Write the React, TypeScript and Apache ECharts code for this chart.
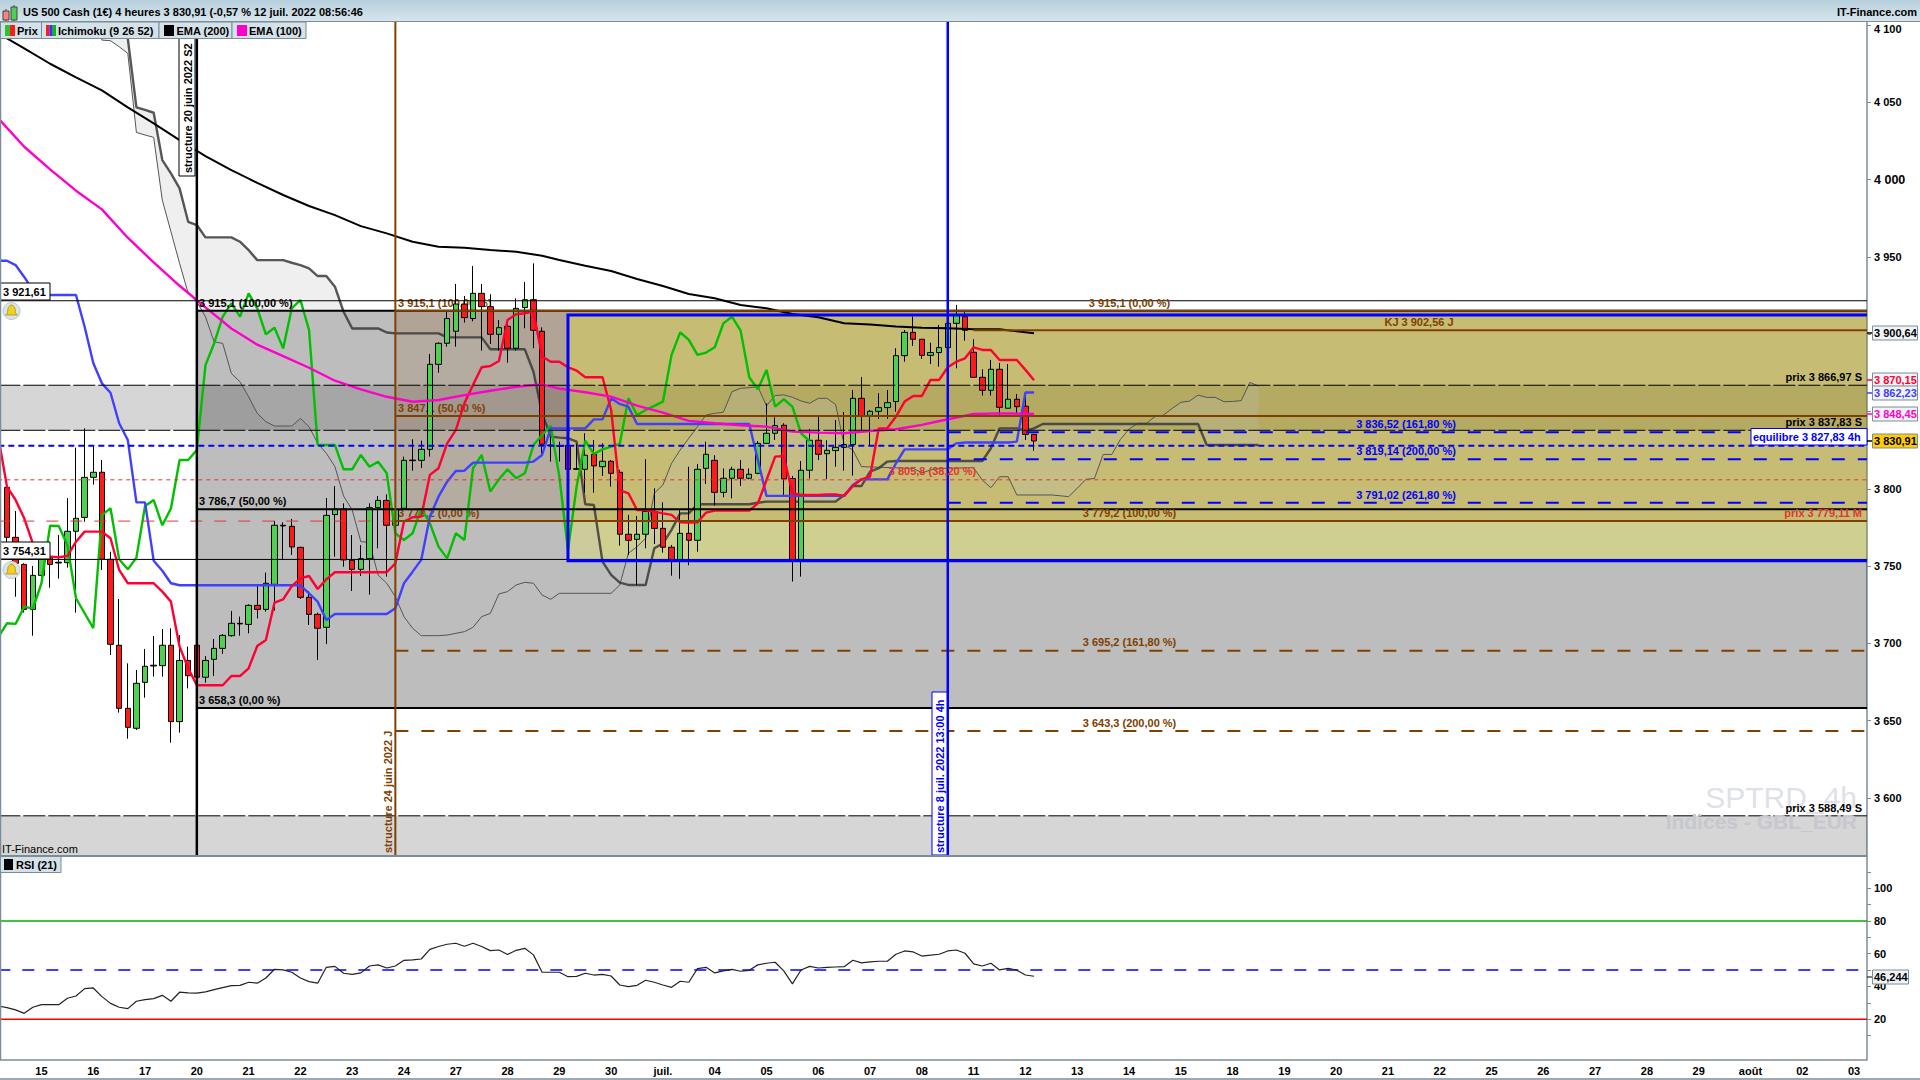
import React, { useEffect, useRef } from "react";
import * as echarts from "echarts";

// ---------- data ----------
// candles: [open, close, low, high]
const candles: number[][] = [
[3800.9,3768.6,3764.7,3803.1],[3768.6,3751.8,3730.2,3785.6],[3751.1,3722.0,3719.9,3751.8],[3722.0,3744.0,3705.0,3750.1],
[3744.0,3756.1,3743.2,3758.3],[3756.1,3751.1,3736.0,3759.3],[3752.5,3752.0,3741.9,3770.1],[3752.2,3772.5,3749.0,3794.0],
[3772.5,3780.9,3719.9,3826.6],[3781.5,3807.4,3778.7,3839.1],[3807.4,3810.7,3802.7,3828.3],[3810.7,3754.4,3747.5,3818.6],
[3754.4,3699.4,3692.5,3759.3],[3698.8,3658.0,3655.2,3728.7],[3658.0,3645.7,3638.4,3687.1],[3645.1,3674.2,3644.0,3682.8],
[3674.8,3685.2,3664.9,3696.4],[3685.9,3685.4,3678.5,3704.8],[3685.6,3698.8,3678.5,3709.3],[3698.8,3649.4,3635.8,3709.8],
[3649.4,3689.0,3642.3,3705.4],[3689.0,3679.1,3670.9,3697.9],[3698.8,3678.1,3674.2,3700.1],[3678.1,3689.0,3674.6,3691.8],
[3689.7,3696.8,3678.9,3702.9],[3696.8,3705.2,3693.2,3706.1],[3705.0,3713.0,3704.4,3721.0],[3713.0,3712.6,3705.0,3717.3],
[3712.3,3724.6,3706.5,3725.3],[3724.6,3722.0,3716.2,3737.4],[3722.0,3738.9,3720.5,3745.8],[3738.2,3776.4,3721.2,3779.2],
[3776.4,3776.0,3754.4,3778.3],[3775.7,3762.4,3757.2,3780.5],[3762.1,3729.8,3728.7,3762.6],[3729.8,3718.8,3711.9,3733.9],
[3718.8,3709.8,3689.3,3719.9],[3710.4,3782.8,3699.6,3794.0],[3783.3,3786.9,3756.1,3801.8],[3786.9,3754.0,3749.6,3790.6],
[3753.7,3747.9,3733.9,3770.1],[3747.9,3754.8,3743.6,3763.6],[3754.8,3787.8,3731.5,3790.6],[3787.8,3792.5,3761.5,3795.3],
[3792.5,3776.4,3743.2,3796.4],[3776.4,3786.7,3775.0,3790.0],[3787.4,3818.4,3786.3,3820.8],[3818.6,3818.2,3811.7,3832.0],
[3818.4,3825.5,3813.5,3831.1],[3825.5,3880.5,3820.8,3887.2],[3880.5,3894.1,3875.1,3894.7],[3894.1,3910.1,3891.9,3914.4],
[3901.9,3919.5,3891.9,3932.5],[3919.5,3910.7,3907.5,3924.7],[3910.1,3926.4,3908.3,3944.1],[3926.4,3917.8,3889.4,3932.5],
[3917.8,3899.9,3893.7,3925.8],[3899.9,3904.2,3889.4,3909.2],[3905.1,3890.9,3881.6,3908.1],[3890.9,3916.7,3889.4,3923.2],
[3917.2,3922.3,3903.8,3933.8],[3922.3,3902.5,3890.9,3945.8],[3901.9,3828.8,3820.8,3904.4],[3828.3,3827.9,3817.6,3833.7],
[3827.9,3827.5,3817.6,3830.5],[3828.1,3812.6,3812.2,3828.8],[3813.0,3812.6,3812.4,3829.0],[3812.6,3821.7,3797.5,3835.9],
[3822.3,3814.8,3797.5,3831.6],[3814.3,3817.8,3808.3,3829.4],[3817.8,3810.0,3801.4,3818.6],[3810.7,3770.6,3763.2,3812.2],
[3770.6,3766.7,3757.2,3783.1],[3767.3,3770.6,3737.8,3782.4],[3770.6,3785.4,3761.5,3819.1],[3785.4,3774.4,3764.3,3800.3],
[3774.4,3762.2,3758.7,3791.3],[3762.2,3754.0,3743.8,3763.7],[3754.0,3771.2,3741.7,3786.3],[3771.2,3766.7,3750.5,3814.3],
[3766.7,3812.6,3759.3,3816.1],[3813.2,3822.3,3803.1,3830.5],[3818.4,3797.7,3789.1,3821.7],[3797.7,3806.8,3794.5,3813.2],
[3806.8,3812.6,3793.8,3814.3],[3812.6,3806.8,3801.8,3818.6],[3806.8,3809.4,3806.1,3813.2],[3810.0,3829.4,3809.4,3830.9],
[3829.4,3835.9,3829.0,3855.3],[3835.9,3840.8,3831.6,3846.2],[3841.1,3806.3,3795.6,3842.4],[3806.6,3754.0,3740.0,3808.3],
[3754.0,3812.0,3743.2,3818.0],[3812.0,3831.4,3806.6,3838.7],[3831.4,3822.3,3818.6,3846.7],[3822.7,3824.9,3806.3,3831.4],
[3824.7,3826.8,3814.3,3844.5],[3826.8,3828.6,3811.7,3849.7],[3828.6,3858.5,3808.5,3863.9],[3858.5,3847.1,3837.6,3872.3],
[3847.5,3850.1,3828.3,3851.0],[3850.1,3852.5,3845.2,3861.8],[3852.5,3855.7,3845.2,3863.9],[3856.4,3886.1,3849.9,3890.9],
[3886.1,3901.2,3882.2,3902.7],[3901.2,3896.7,3892.4,3911.3],[3896.7,3886.3,3884.0,3896.7],[3886.3,3888.1,3880.7,3894.5],
[3888.1,3891.3,3879.0,3906.0],[3891.3,3907.0,3890.9,3907.0],[3907.0,3912.4,3877.9,3918.9],[3911.3,3902.5,3895.8,3914.2],
[3888.3,3872.1,3872.1,3896.7],[3872.1,3863.7,3860.3,3877.3],[3863.7,3877.3,3860.3,3883.3],[3877.3,3852.7,3847.7,3881.4],
[3852.1,3857.9,3852.1,3880.7],[3857.9,3853.1,3848.8,3861.3],[3853.4,3835.2,3831.6,3860.0],[3835.2,3830.91,3824.5,3835.2],
];
// one point before the first candle, then one point per candle
const tenkan = [3833.7,3801.4,3792.8,3780.9,3764.7,3755.7,3756.1,3755.7,3756.5,3765.8,3772.3,3772.3,3772.3,3768.0,3747.5,3738.9,3738.9,3738.9,3738.9,3733.5,3727.0,3697.9,3683.9,3672.9,3672.9,3672.9,3672.9,3678.9,3678.9,3683.9,3698.3,3702.2,3726.4,3728.5,3737.1,3742.1,3743.6,3735.2,3741.4,3746.0,3746.0,3746.0,3746.0,3746.0,3746.0,3746.0,3751.8,3778.8,3781.6,3782.0,3809.0,3813.3,3829.4,3838.0,3855.3,3867.2,3878.6,3879.4,3882.7,3909.2,3912.9,3913.5,3914.6,3885.5,3882.2,3882.2,3878.6,3876.4,3872.1,3872.1,3872.1,3851.0,3799.2,3797.1,3786.3,3786.3,3785.2,3784.1,3783.1,3778.3,3778.1,3778.3,3784.6,3785.9,3785.9,3785.9,3785.9,3785.9,3790.6,3805.7,3820.8,3821.2,3797.1,3796.0,3796.0,3796.0,3796.4,3796.4,3795.4,3801.8,3806.1,3807.9,3839.1,3839.1,3846.7,3856.4,3860.0,3860.0,3870.4,3870.4,3878.6,3882.2,3884.4,3891.5,3889.8,3889.8,3883.3,3883.3,3883.3,3876.9,3870.15];
const kijun = [3947.5,3947.5,3944.7,3937.0,3928.5,3925.3,3925.3,3925.3,3925.3,3925.3,3904.8,3881.3,3868.2,3862.1,3842.4,3831.6,3791.2,3791.2,3753.5,3747.0,3738.9,3737.6,3737.6,3737.6,3737.6,3737.6,3737.6,3737.6,3737.6,3737.6,3737.6,3737.6,3737.6,3737.6,3737.6,3737.6,3732.4,3727.0,3715.1,3719.0,3719.0,3719.0,3719.0,3719.0,3719.0,3719.0,3722.7,3738.9,3746.4,3754.0,3782.0,3794.9,3804.6,3811.5,3811.7,3816.9,3816.9,3816.9,3816.9,3816.9,3816.9,3816.9,3817.6,3821.9,3839.1,3839.1,3839.1,3839.1,3839.1,3844.9,3844.9,3858.5,3854.9,3853.1,3841.9,3841.9,3841.9,3841.9,3841.9,3841.9,3841.9,3841.9,3841.9,3841.9,3841.9,3841.9,3841.9,3841.9,3818.6,3795.4,3795.4,3795.4,3795.4,3795.4,3795.4,3795.4,3795.4,3795.4,3795.4,3802.5,3806.1,3806.1,3806.1,3806.1,3816.5,3825.5,3825.5,3825.5,3825.5,3825.5,3825.5,3829.4,3829.9,3829.9,3829.9,3829.9,3829.9,3829.9,3830.5,3862.23,3862.23];
const chikou = [3704.0,3713.0,3712.6,3723.8,3722.5,3738.9,3776.2,3776.0,3763.6,3729.2,3719.5,3709.8,3783.0,3787.4,3754.4,3747.9,3755.5,3788.9,3792.7,3776.4,3787.3,3818.6,3818.6,3825.1,3880.0,3894.0,3911.3,3919.9,3911.3,3926.4,3916.7,3899.9,3904.2,3890.8,3916.7,3922.1,3902.7,3828.3,3828.3,3828.3,3812.6,3812.6,3821.9,3814.3,3817.5,3810.0,3771.2,3766.9,3771.2,3787.4,3777.7,3762.6,3755.0,3771.2,3766.9,3813.3,3821.9,3798.2,3806.1,3812.6,3806.8,3810.0,3828.3,3834.8,3840.8,3807.9,3760.4,3801.4,3831.1,3822.5,3825.5,3827.3,3829.0,3858.5,3847.7,3851.0,3853.6,3856.4,3886.6,3901.2,3896.3,3886.6,3888.1,3891.5,3907.0,3911.3,3902.3,3872.1,3864.3,3876.9,3853.1,3857.9,3853.1,3835.9,3830.91];
// [candle number, value] readings
const senkouThin: number[][] = [[9,4200],[11,4090.2],[12,4089.8],[13,4085.9],[14,4081.6],[15,4030.5],[16,4028.8],[17,4027.3],[18,3986.7],[19,3966.3],[20,3945.8],[21,3926.4],[22,3921.0],[23,3911.3],[24,3895.1],[25,3894.0],[26,3874.6],[27,3869.2],[28,3859.5],[29,3848.8],[30,3843.4],[31,3840.6],[33,3840.6],[34,3845.5],[35,3840.2],[36,3829.4],[37,3823.0],[38,3814.3],[39,3795.3],[40,3786.3],[41,3765.8],[42,3765.4],[43,3744.2],[44,3738.9],[45,3730.2],[46,3717.3],[47,3709.8],[48,3705.0],[50,3705.0],[51,3705.4],[53,3707.6],[54,3710.4],[55,3717.3],[56,3719.4],[57,3732.0],[58,3733.5],[59,3737.8],[60,3739.5],[61,3738.9],[62,3731.3],[63,3728.5],[64,3732.4],[70,3732.4],[71,3737.8],[72,3758.3],[73,3762.6],[74,3768.0],[75,3797.1],[76,3802.5],[77,3816.5],[78,3825.1],[79,3832.7],[80,3840.2],[81,3847.7],[82,3848.8],[83,3849.5],[84,3862.8],[85,3865.0],[86,3865.4],[87,3866.0],[88,3853.6],[89,3860.3],[90,3860.7],[91,3859.2],[92,3856.8],[93,3855.3],[94,3858.5],[95,3858.5],[96,3854.6],[97,3828.3],[98,3825.1],[99,3814.3],[105,3813.2],[106,3810.4],[107,3812.1],[108,3813.2],[112,3813.6],[113,3805.6],[114,3800.7],[115,3807.8],[116,3807.8],[117,3796.0],[121,3796.0],[122,3795.5],[123,3794.9],[124,3800.3],[125,3806.1],[126,3806.7],[127,3822.2],[128,3822.2],[129,3831.9],[130,3838.6],[131,3842.3],[132,3842.3],[133,3846.6],[134,3847.7],[135,3852.0],[136,3855.9],[137,3856.7],[138,3860.6],[139,3859.1],[140,3859.1],[141,3856.3],[142,3856.5],[143,3857.0],[144,3868.8],[145,3866.4]];
const senkouThick: number[][] = [[9,4400],[13,4202],[14,4091.3],[15,4046.7],[16,4045.0],[17,4043.2],[18,4012.6],[19,4004.0],[20,3994.3],[21,3972.7],[22,3970.6],[23,3962.6],[26,3962.6],[27,3959.8],[28,3954.4],[29,3947.9],[32,3947.9],[33,3946.2],[34,3944.7],[35,3942.5],[36,3937.6],[37,3937.6],[38,3930.7],[39,3914.5],[40,3903.7],[43,3903.7],[44,3901.1],[45,3900.5],[50,3900.5],[51,3897.9],[55,3897.9],[56,3890.2],[60,3890.2],[61,3875.7],[62,3848.8],[63,3833.7],[64,3833.1],[65,3832.7],[66,3830.5],[67,3790.0],[68,3789.5],[69,3752.9],[70,3744.3],[71,3739.3],[72,3737.8],[74,3737.8],[75,3761.5],[76,3764.7],[77,3773.4],[78,3784.1],[79,3784.1],[80,3790.0],[86,3790.0],[87,3791.0],[88,3791.7],[96,3791.7],[97,3796.0],[98,3801.8],[99,3801.8],[100,3811.1],[101,3813.3],[102,3817.6],[103,3818.0],[113,3818.0],[114,3826.2],[115,3839.1],[117,3839.1],[118,3837.6],[119,3839.1],[120,3841.9],[138,3841.9],[139,3828.3],[145,3828.3]];
const ema200: number[][] = [[-1,4094.5],[2,4084.8],[5,4074.9],[8,4066.1],[11,4057.7],[14,4046.7],[17,4036.3],[20,4025.5],[23,4015.2],[26,4006.1],[29,3997.9],[32,3990.0],[35,3982.9],[38,3977.0],[41,3969.9],[44,3965.2],[47,3959.8],[50,3956.6],[53,3955.9],[56,3954.4],[59,3953.3],[62,3950.7],[64,3948.0],[67,3944.3],[70,3940.9],[73,3935.7],[76,3931.2],[79,3926.0],[82,3923.2],[85,3918.9],[88,3916.7],[91,3913.1],[94,3910.9],[97,3907.0],[100,3906.2],[103,3904.9],[106,3904.2],[109,3903.8],[112,3903.2],[115,3903.2],[119,3900.64]];
const ema100: number[][] = [[-1,4039.6],[2,4021.2],[5,4006.6],[8,3992.8],[11,3980.7],[14,3962.4],[17,3946.4],[20,3931.3],[23,3917.3],[26,3903.7],[29,3893.2],[32,3885.8],[35,3878.3],[38,3869.9],[41,3864.3],[44,3859.5],[47,3856.3],[50,3857.4],[53,3860.6],[56,3863.4],[59,3866.0],[62,3867.5],[64,3864.8],[67,3862.4],[70,3859.6],[73,3853.8],[76,3849.3],[79,3843.9],[82,3842.4],[85,3841.1],[88,3840.2],[91,3837.0],[94,3836.3],[97,3835.9],[100,3837.4],[103,3838.5],[106,3841.3],[109,3845.0],[112,3848.4],[115,3848.8],[119,3848.45]];
const rsi = [28.1,27.1,25.7,23.6,27.3,28.9,28.9,28.9,32.8,34.2,38.7,39.1,33.8,29.7,27.3,26.5,31.0,32.0,32.6,34.6,31.0,36.5,36.1,35.9,36.7,38.1,39.3,40.5,40.7,42.6,42.0,45.2,50.5,50.1,48.7,45.2,43.0,42.0,51.7,52.3,48.1,47.4,48.3,52.5,53.2,51.3,52.5,56.0,56.2,56.8,62.7,64.4,65.8,66.4,64.6,66.4,64.4,61.9,62.3,59.5,62.1,63.3,59.3,48.7,48.7,48.7,46.0,46.2,48.1,47.0,47.4,46.4,40.9,39.9,40.7,43.8,42.6,40.9,39.5,43.2,42.6,50.9,51.7,48.3,49.5,50.5,49.3,49.9,53.2,54.2,54.8,49.5,41.6,50.1,52.3,51.3,51.7,51.9,52.1,56.0,54.4,55.0,55.4,55.4,59.7,61.7,61.1,58.6,59.1,59.7,61.7,62.3,60.3,53.8,52.5,54.2,50.1,51.1,49.9,47.0,46.244];
const dayLabels = ["15","16","17","20","21","22","23","24","27","28","29","30","juil.","04","05","06","07","08","11","12","13","14","15","18","19","20","21","22","25","26","27","28","29","août","02","03"];
const priceTicks = [3600,3650,3700,3750,3800,3850,3900,3950,4000,4050,4100];
const priceLabels = [3600,3650,3700,3750,3800,3950,4000,4050,4100];
const rsiLabels = [20,40,60,80,100];
const rsiTicks = [10,20,30,40,50,60,70,80,90,100,110];
const BAR_COUNT = 217;
const categories = Array.from({ length: BAR_COUNT }, (_, j) => (j % 6 === 5 ? dayLabels[(j - 5) / 6] ?? "" : ""));

// candle numbers of the drawn structures
const I_BLACK = 22, I_BROWN = 45, I_BOX = 65, I_BLUE = 109, I_KJ = 112;

const BROWN = "#804000", BLUE = "#0000ff", SLATE = "#7b8d98", RED = "#e03535";
const FONT = '"Liberation Sans", Arial, sans-serif';

const pj = (pairs: number[][]) => pairs.map(([i, v]) => [i + 1, v]);
const idx = (arr: number[]) => arr.map((v, j) => [j, v]);

function hLine(from: number, price: number, color: string, width: number, dash?: number[], z = 10, axis = 0) {
  return {
    type: "custom", silent: true, z, xAxisIndex: axis, yAxisIndex: axis, encode: { x: 0, y: 1 },
    data: [[from, price]],
    renderItem: (p: any, api: any) => {
      const a = api.coord([api.value(0), api.value(1)]);
      const cs = p.coordSys;
      return { type: "line", shape: { x1: a[0], y1: a[1], x2: cs.x + cs.width, y2: a[1] }, style: { stroke: color, lineWidth: width, lineDash: dash, fill: null } };
    },
  };
}
function vLine(from: number, color: string, width: number) {
  return {
    type: "custom", silent: true, z: 10, xAxisIndex: 0, yAxisIndex: 0, encode: { x: 0, y: 1 },
    data: [[from, 3700]],
    renderItem: (p: any, api: any) => {
      const a = api.coord([api.value(0), api.value(1)]);
      const cs = p.coordSys;
      return { type: "line", shape: { x1: a[0], y1: cs.y, x2: a[0], y2: cs.y + cs.height }, style: { stroke: color, lineWidth: width, fill: null } };
    },
  };
}
function zone(from: number, top: number, bottom: number, fill: string, z: number) {
  return {
    type: "custom", silent: true, z, xAxisIndex: 0, yAxisIndex: 0, encode: { x: 0, y: 1 },
    data: [[from, top, bottom]],
    renderItem: (p: any, api: any) => {
      const a = api.coord([api.value(0), api.value(1)]);
      const b = api.coord([api.value(0), api.value(2)]);
      const cs = p.coordSys;
      const x = Math.max(a[0], cs.x);
      return { type: "rect", shape: { x, y: a[1], width: cs.x + cs.width - x, height: b[1] - a[1] }, style: { fill } };
    },
  };
}
function lineS(data: number[][], color: string, width: number, z: number, axis = 0, opacity = 1) {
  return { type: "line", silent: true, xAxisIndex: axis, yAxisIndex: axis, data, z, showSymbol: false, symbol: "none", lineStyle: { color, width, opacity }, clip: true };
}

const tx = (text: string, x: number, y: number, fill = "#000", align = "left", z = 30, font = `bold 11px ${FONT}`, rotation = 0) => ({
  type: "text", silent: true, z, x, y, rotation,
  style: { text, fill, font, align, textAlign: align, verticalAlign: "middle", textVerticalAlign: "middle" },
});
const rc = (x: number, y: number, w: number, h: number, fill: any, stroke?: string, z = 25, lw = 1) => ({
  type: "rect", silent: true, z, shape: { x, y, width: w, height: h }, style: { fill, stroke, lineWidth: lw },
});
const ln = (x1: number, y1: number, x2: number, y2: number, stroke: string, lw = 1, z = 25) => ({
  type: "line", silent: true, z, shape: { x1, y1, x2, y2 }, style: { stroke, lineWidth: lw },
});
const bell = (cx: number, cy: number) => [
  { type: "circle", silent: true, z: 26, shape: { cx, cy, r: 8.5 }, style: { fill: "#dbe4ea", stroke: "#b8c6cf" } },
  { type: "polygon", silent: true, z: 27, shape: { points: [[cx - 6, cy + 4], [cx - 4, cy + 2], [cx - 3.5, cy - 3], [cx - 1, cy - 6], [cx + 1, cy - 6], [cx + 3.5, cy - 3], [cx + 4, cy + 2], [cx + 6, cy + 4]] }, style: { fill: "#f2d21e", stroke: "#a08a10", lineWidth: 0.7 } },
];
const tag = (text: string, y: number, color: string, bg = "#f1f4f6") => [
  ln(1867, y, 1872, y, color, 1.5, 28),
  rc(1872.5, y - 7, 45, 14, bg, SLATE, 28),
  tx(text, 1874, y, color, "left", 29),
];

const graphics: any[] = [
  // title bar
  rc(0, 0, 1920, 21.5, { type: "linear", x: 0, y: 0, x2: 0, y2: 1, colorStops: [{ offset: 0, color: "#b6cfdc" }, { offset: 1, color: "#d8e6ed" }] }, undefined, 40),
  ln(0, 21.5, 1920, 21.5, SLATE, 1, 41),
  rc(3, 11, 6, 9, "#ff8080", "#444", 42), ln(6, 9, 6, 21, "#444", 1, 41),
  rc(11, 7, 6, 13, "#50d050", "#444", 42), ln(14, 5, 14, 21, "#444", 1, 41),
  tx("US 500 Cash (1€) 4 heures 3 830,91 (-0,57 % 12 juil. 2022 08:56:46", 23, 12, "#000", "left", 42),
  tx("IT-Finance.com", 1917, 12, "#000", "right", 42),
  // legend row
  rc(0.5, 22, 41, 16.5, "#d4e1e8", SLATE, 40), rc(41.5, 22, 117.5, 16.5, "#d4e1e8", SLATE, 40),
  rc(159, 22, 73, 16.5, "#d4e1e8", SLATE, 40), rc(232, 22, 74, 16.5, "#d4e1e8", SLATE, 40),
  rc(5, 25, 5, 11, "#30c030", undefined, 41), rc(10, 25, 5, 11, "#ff1a1a", undefined, 41),
  rc(46, 25, 3.4, 11, "#ff1a1a", undefined, 41), rc(49.4, 25, 3.3, 11, "#3030ff", undefined, 41), rc(52.7, 25, 3.3, 11, "#00c000", undefined, 41),
  rc(164, 25, 10, 11, "#000", undefined, 41), rc(237, 25, 10, 11, "#ff00cc", undefined, 41),
  tx("Prix", 17, 31, "#000", "left", 42), tx("Ichimoku (9 26 52)", 58, 31, "#000", "left", 42),
  tx("EMA (200)", 176.5, 31, "#000", "left", 42), tx("EMA (100)", 249, 31, "#000", "left", 42),
  // RSI legend
  rc(0.5, 856.5, 60.5, 16, "#d4e1e8", SLATE, 40), rc(4, 859, 9, 11, "#000", undefined, 41), tx("RSI (21)", 16, 865, "#000", "left", 42),
  // frame
  ln(0.5, 22, 0.5, 1060, SLATE, 1.5, 35),
  ln(0, 856, 1867, 856, SLATE, 2, 35),
  ln(0, 1060, 1867, 1060, SLATE, 1.5, 35),
  ln(0, 1079, 1920, 1079, SLATE, 1.5, 35),
  // texts behind the candles
  tx("3 915,1 (100,00 %)", 398, 303, BROWN, "left", 3),
  tx("3 847,1 (50,00 %)", 398, 408, BROWN, "left", 3),
  tx("3 779,2 (0,00 %)", 398, 513, BROWN, "left", 3),
  // structure labels
  rc(179, 22, 16, 154, "#fff", "#000", 11),
  tx("structure 20 juin 2022 S2", 187.5, 173, "#000", "left", 12, `bold 11px ${FONT}`, Math.PI / 2),
  tx("structure 24 juin 2022 J", 388, 853, BROWN, "left", 12, `bold 11px ${FONT}`, Math.PI / 2),
  rc(932, 692, 15, 163, "#fff", BLUE, 11),
  tx("structure 8 juil. 2022 13:00 4h", 940, 853, BLUE, "left", 12, `bold 11px ${FONT}`, Math.PI / 2),
  // level texts
  tx("3 915,1 (100,00 %)", 199, 303), tx("3 786,7 (50,00 %)", 199, 501), tx("3 658,3 (0,00 %)", 199, 700),
  tx("3 915,1 (0,00 %)", 1129.5, 303, BROWN, "center"), tx("3 779,2 (100,00 %)", 1129.5, 513, BROWN, "center"),
  tx("3 695,2 (161,80 %)", 1129.5, 642, BROWN, "center"), tx("3 643,3 (200,00 %)", 1129.5, 723, BROWN, "center"),
  tx("KJ 3 902,56 J", 1419, 322, BROWN, "center"),
  tx("3 836,52 (161,80 %)", 1406, 424, BLUE, "center"), tx("3 819,14 (200,00 %)", 1406, 451, BLUE, "center"), tx("3 791,02 (261,80 %)", 1406, 495, BLUE, "center"),
  tx("3 805,8 (38,20 %)", 932.5, 471, RED, "center"),
  tx("prix 3 866,97 S", 1862, 377, "#000", "right"), tx("prix 3 837,83 S", 1862, 422, "#000", "right"),
  tx("prix 3 779,11 M", 1862, 513, RED, "right"),
  // watermark
  tx("SPTRD_4h", 1857, 797, "#dfe1e8", "right", 4, `30px ${FONT}`),
  tx("Indices - GBL_EUR", 1857, 821, "#c6c7cf", "right", 15, `bold 21px ${FONT}`),
  tx("prix 3 588,49 S", 1862, 808, "#000", "right"),
  tx("IT-Finance.com", 2, 849, "#000", "left", 30, `11px ${FONT}`),
  // equilibrium box
  rc(1751, 428.5, 116, 16.5, "#fff", BLUE, 26),
  tx("equilibre 3 827,83 4h", 1753, 437, BLUE, "left", 27),
  // left price boxes
  rc(0.5, 283, 49.5, 17, "#fff", "#000", 26), tx("3 921,61", 3, 292, "#000", "left", 27),
  rc(0.5, 542, 49.5, 17, "#fff", "#000", 26), tx("3 754,31", 3, 551, "#000", "left", 27),
  ...bell(11.5, 311), ...bell(11.5, 570),
  // right tags
  ...tag("3 900,64", 333, "#000"), ...tag("3 870,15", 380, "#ff0033"), ...tag("3 862,23", 393, "#4040ff"),
  ...tag("3 848,45", 414, "#ff00cc"), ...tag("3 830,91", 441, "#000", "#ffcc00"),
  ln(1867, 977, 1872, 977, "#000", 1, 28), rc(1872.5, 970, 36, 14, "#f1f4f6", SLATE, 28),
  tx("46,244", 1874, 977, "#000", "left", 29),
];

const fmtPrice = (v: number) => {
  const s = String(Math.round(v));
  const t = `${s.slice(0, 1)} ${s.slice(1)}`;
  if (v === 4000) return `{big|${t}}`;
  if (v === 4100) return `{low|${t}}`;
  return t;
};

function buildOption(): any {
  const from = (i: number) => i + 1;
  const last = from(-1);
  return {
    animation: false,
    backgroundColor: "#fff",
    grid: [
      { left: 0, width: 1873, top: 22, height: 834, containLabel: false },
      { left: 0, width: 1873, top: 856, height: 204, containLabel: false },
    ],
    xAxis: [
      { type: "category", gridIndex: 0, data: categories, boundaryGap: true, show: false },
      {
        type: "category", gridIndex: 1, data: categories, boundaryGap: true,
        axisLine: { show: false },
        axisTick: { alignWithLabel: true, length: 4, lineStyle: { color: SLATE }, interval: (_: number, v: string) => v !== "" },
        axisLabel: { interval: (_: number, v: string) => v !== "", color: "#000", margin: 5, fontFamily: "Liberation Sans", fontWeight: "bold", fontSize: 11, hideOverlap: false },
      },
    ],
    yAxis: [
      {
        type: "value", gridIndex: 0, position: "right", min: 3562.5, max: 4101.9, scale: true, splitLine: { show: false },
        axisLine: { show: true, onZero: false, lineStyle: { color: SLATE, width: 1.5 } },
        axisTick: { show: true, length: 4, customValues: priceTicks, lineStyle: { color: SLATE } },
        axisLabel: {
          customValues: priceLabels, margin: 7, formatter: fmtPrice, color: "#000", fontFamily: "Liberation Sans", fontWeight: "bold", fontSize: 11,
          rich: {
            big: { fontFamily: "Liberation Sans", fontWeight: "bold", fontSize: 12.5, color: "#000" },
            low: { fontFamily: "Liberation Sans", fontWeight: "bold", fontSize: 11, color: "#000", padding: [8, 0, 0, 0] },
          },
          showMinLabel: true, showMaxLabel: true,
        },
      },
      {
        type: "value", gridIndex: 1, position: "right", min: -4.9, max: 119.7, scale: true, splitLine: { show: false },
        axisLine: { show: true, onZero: false, lineStyle: { color: SLATE, width: 1.5 } },
        axisTick: { show: true, length: 4, customValues: rsiTicks, lineStyle: { color: SLATE } },
        axisLabel: { customValues: rsiLabels, margin: 7, color: "#000", fontFamily: "Liberation Sans", fontWeight: "bold", fontSize: 11 },
      },
    ],
    graphic: { elements: [{ type: "group", x: 6, y: 0, children: graphics }] },
    series: [
      // zones
      zone(last, 3866.97, 3837.83, "rgba(0,0,0,0.16)", 1),
      zone(last, 3588.49, 3562.5, "rgba(0,0,0,0.16)", 1),
      zone(from(I_BLACK), 3915.1, 3658.3, "rgba(0,0,0,0.26)", 1),
      zone(from(I_BROWN), 3915.1, 3779.2, "rgba(128,64,0,0.2)", 1),
      zone(from(I_BOX), 3912.4, 3753.5, "rgba(255,255,20,0.27)", 1),
      // cloud
      {
        type: "custom", silent: true, z: 2, clip: true, xAxisIndex: 0, yAxisIndex: 0, encode: { x: 0, y: 1 },
        data: [[0, 0]],
        renderItem: (_: any, api: any) => {
          const pts = [...pj(senkouThin), ...pj(senkouThick).reverse()].map((d) => api.coord(d));
          return { type: "polygon", shape: { points: pts }, style: { fill: "rgba(190,190,190,0.25)", stroke: null } };
        },
      },
      lineS(pj(senkouThin), "#555", 1, 3),
      lineS(pj(senkouThick), "#3a3a3a", 2.4, 3, 0, 0.85),
      // candles
      {
        type: "candlestick", silent: true, xAxisIndex: 0, yAxisIndex: 0, z: 5, barWidth: 6, clip: true,
        data: [["-", "-", "-", "-"], ...candles],
        itemStyle: { color: "#50d050", color0: "#ff1a1a", colorDoji: "#000", borderColor: "#000", borderColor0: "#000", borderColorDoji: "#000", borderWidth: 1 },
      },
      // ichimoku and averages
      lineS(idx(chikou), "#00c000", 2.4, 6),
      lineS(idx(kijun), "#4040ff", 2.4, 6),
      lineS(idx(tenkan), "#ff0033", 2.4, 6),
      lineS(pj(ema100), "#ff00cc", 2.4, 6),
      lineS(pj(ema200), "#000", 2, 6),
      // levels
      hLine(last, 3921.61, "#000", 1),
      hLine(last, 3754.31, "#000", 1),
      hLine(last, 3866.97, "#000", 1, [22, 3]),
      hLine(last, 3837.83, "#000", 1, [22, 3]),
      hLine(last, 3588.49, "#000", 1, [22, 3]),
      hLine(last, 3827.83, BLUE, 2, [6, 4]),
      hLine(last, 3805.8, RED, 1, [4, 4]),
      hLine(last, 3779.11, RED, 1, [12, 12]),
      hLine(from(I_BLACK), 3915.1, "#000", 2),
      hLine(from(I_BLACK), 3786.7, "#000", 2),
      hLine(from(I_BLACK), 3658.3, "#000", 2),
      hLine(from(I_BROWN), 3915.1, BROWN, 2),
      hLine(from(I_BROWN), 3847.1, BROWN, 2),
      hLine(from(I_BROWN), 3779.2, BROWN, 2),
      hLine(from(I_BROWN), 3695.2, BROWN, 2, [13, 13]),
      hLine(from(I_BROWN), 3643.3, BROWN, 2, [13, 13]),
      hLine(from(I_KJ), 3902.56, BROWN, 2),
      hLine(from(I_BLUE), 3836.52, BLUE, 2, [13, 13]),
      hLine(from(I_BLUE), 3819.14, BLUE, 2, [13, 13]),
      hLine(from(I_BLUE), 3791.02, BLUE, 2, [13, 13]),
      // box
      {
        type: "custom", silent: true, z: 10, xAxisIndex: 0, yAxisIndex: 0, encode: { x: 0, y: 1 },
        data: [[from(I_BOX), 3912.4, 3753.5]],
        renderItem: (p: any, api: any) => {
          const a = api.coord([api.value(0), api.value(1)]);
          const b = api.coord([api.value(0), api.value(2)]);
          const r = p.coordSys.x + p.coordSys.width;
          return { type: "polyline", shape: { points: [[r, a[1]], [a[0], a[1]], [a[0], b[1]], [r, b[1]]] }, style: { stroke: BLUE, lineWidth: 3, fill: null } };
        },
      },
      vLine(from(I_BLACK), "#000", 2.5),
      vLine(from(I_BROWN), BROWN, 2),
      vLine(from(I_BLUE), BLUE, 2.5),
      // RSI
      hLine(0, 80, "#00b000", 1.5, undefined, 4, 1),
      hLine(0, 20, "#ff0000", 1.5, undefined, 4, 1),
      hLine(0, 50, BLUE, 1.5, [12, 12], 4, 1),
      lineS(idx(rsi), "#222", 1.2, 5, 1),
    ],
  };
}

export default function App() {
  const ref = useRef<HTMLDivElement | null>(null);
  useEffect(() => {
    const chart = echarts.init(ref.current as HTMLDivElement, undefined, { renderer: "svg" });
    chart.setOption(buildOption());
    return () => chart.dispose();
  }, []);
  // the plot starts one candle step left of the page so that the lines reach its edge
  return <div ref={ref} style={{ position: "fixed", left: -6, top: 0, width: 1926, height: 1080, background: "#fff" }} />;
}
